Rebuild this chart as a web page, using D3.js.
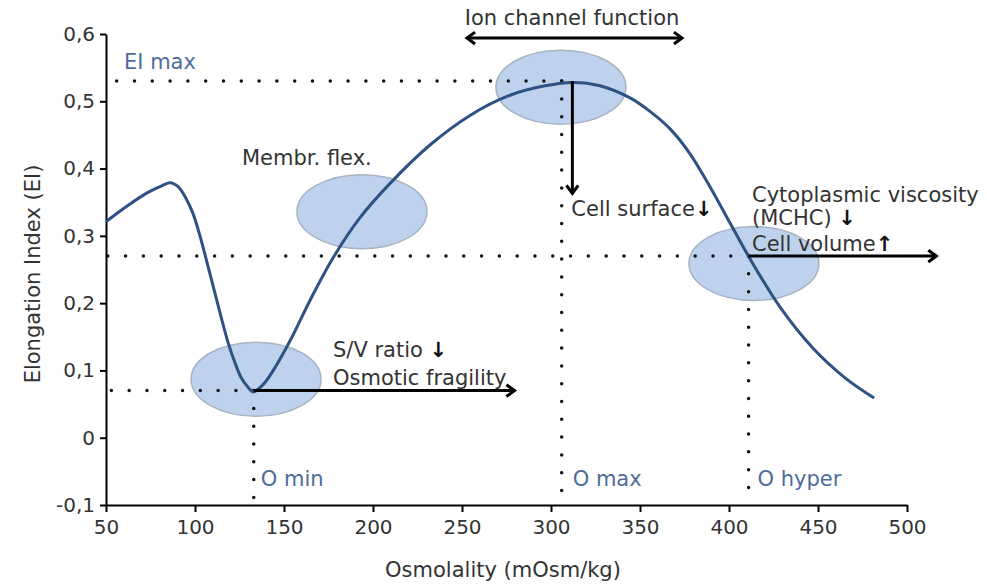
<!DOCTYPE html>
<html>
<head>
<meta charset="utf-8">
<script src="https://cdn.jsdelivr.net/npm/d3@7"></script>
<style>
  body { margin: 0; background: #fff; }
  svg text { font-family: "DejaVu Sans", Verdana, sans-serif; }
  .axis path, .axis line { stroke: #000; stroke-width: 2; }
  .axis text { font-size: 20px; fill: #333; }
</style>
</head>
<body>
<svg id="chart" width="987" height="584"></svg>
<script>
// osmolality (mOsm/kg) and elongation index
const osmolality = [50, 60.7, 71.9, 80.3, 86.0, 90.5, 94.9, 98.9, 102.8, 106.7, 110.7, 114.6, 118.5, 122.5, 125.8, 129.2, 132.6,
  135.4, 139.3, 144.9, 153.4, 164.6, 177.5, 192.7, 209.6, 232.0, 254.5, 277.0, 296.6, 312.4,
  327.5, 344.4, 355.6, 366.9, 378.1, 389.3, 400.6, 410.7, 428.7, 447.2, 465.2, 481.5];
const elongation = [0.321, 0.342, 0.362, 0.373, 0.379, 0.373, 0.356, 0.333, 0.300, 0.261, 0.220, 0.180, 0.142, 0.111, 0.090, 0.077, 0.068,
  0.072, 0.082, 0.104, 0.144, 0.204, 0.267, 0.327, 0.378, 0.435, 0.479, 0.509, 0.523, 0.528,
  0.523, 0.505, 0.485, 0.459, 0.422, 0.373, 0.319, 0.271, 0.194, 0.133, 0.089, 0.059];

const xTicks = [50, 100, 150, 200, 250, 300, 350, 400, 450, 500];
const yTicks = [-0.1, 0, 0.1, 0.2, 0.3, 0.4, 0.5, 0.6];

// characteristic points
const oMin = 133, eiMin = 0.07;
const oMax = 306, eiMax = 0.53, peakX = 312;
const oHyper = 411, eiHyper = 0.27;

// shaded regions: [centre osmolality, centre EI]
const regions = [[134.3, 0.087], [193.8, 0.336], [305.6, 0.521], [414, 0.259]];

const blue = "#4d6d9c", curveColor = "#2d5283", textColor = "#333";

const svg = d3.select("#chart");
const x = d3.scaleLinear().domain([50, 500]).range([106, 907]);
const y = d3.scaleLinear().domain([-0.1, 0.6]).range([505, 34]);

const fmt = d => d === 0 ? "0" : (d < 0 ? "-" : "") + d3.format(".1f")(Math.abs(d)).replace(".", ",");

// ellipses go under everything else
svg.append("g").selectAll("ellipse")
  .data(regions)
  .enter().append("ellipse")
  .attr("cx", d => x(d[0]))
  .attr("cy", d => y(d[1]))
  .attr("rx", 65)
  .attr("ry", 37)
  .attr("fill", "#bed2ee")
  .attr("stroke", "#a8b3c1")
  .attr("stroke-width", 1.5);

// dotted guide lines
const guides = [
  [[oMax, eiMax], [50, eiMax]],
  [[oHyper, eiHyper], [50, eiHyper]],
  [[oMin, eiMin], [50, eiMin]],
  [[oMin, eiMin], [oMin, -0.1]],
  [[oMax, eiMax], [oMax, -0.1]],
  [[oHyper, eiHyper], [oHyper, -0.1]]
];
svg.append("g").selectAll("line")
  .data(guides)
  .enter().append("line")
  .attr("x1", d => x(d[0][0])).attr("y1", d => y(d[0][1]))
  .attr("x2", d => x(d[1][0])).attr("y2", d => y(d[1][1]))
  .attr("stroke", "#111")
  .attr("stroke-width", 3.5)
  .attr("stroke-linecap", "round")
  .attr("stroke-dasharray", "0 17.8");

// axes
svg.append("g")
  .attr("class", "axis")
  .attr("transform", "translate(0," + y(-0.1) + ")")
  .call(d3.axisBottom(x).tickValues(xTicks).tickSize(7).tickSizeOuter(0).tickPadding(8))
  .selectAll("text").attr("fill", textColor);

svg.append("g")
  .attr("class", "axis")
  .attr("transform", "translate(" + x(50) + ",0)")
  .call(d3.axisLeft(y).tickValues(yTicks).tickFormat(fmt).tickSize(6).tickSizeOuter(0).tickPadding(5))
  .selectAll("text").attr("fill", textColor);

svg.append("text")
  .attr("x", 503).attr("y", 570).attr("dy", "0.35em")
  .attr("text-anchor", "middle")
  .attr("font-size", 21).attr("fill", textColor)
  .text("Osmolality (mOsm/kg)");

svg.append("text")
  .attr("transform", "translate(33,274) rotate(-90)")
  .attr("dy", "0.35em")
  .attr("text-anchor", "middle")
  .attr("font-size", 21).attr("fill", textColor)
  .text("Elongation Index (EI)");

// the curve
const points = osmolality.map((o, i) => [o, elongation[i]]);
svg.append("path")
  .datum(points)
  .attr("fill", "none")
  .attr("stroke", curveColor)
  .attr("stroke-width", 3)
  .attr("d", d3.line().x(d => x(d[0])).y(d => y(d[1])).curve(d3.curveCatmullRom.alpha(0.5)));

// arrows
function arrow(x1, y1, x2, y2, both) {
  svg.append("line")
    .attr("x1", x1).attr("y1", y1).attr("x2", x2).attr("y2", y2)
    .attr("stroke", "#000").attr("stroke-width", 3);
  const head = (tx, ty, ang) => {
    const a1 = ang + Math.PI * 0.8, a2 = ang - Math.PI * 0.8, len = 10;
    svg.append("path")
      .attr("d", "M" + (tx + len * Math.cos(a1)) + "," + (ty + len * Math.sin(a1)) +
        "L" + tx + "," + ty +
        "L" + (tx + len * Math.cos(a2)) + "," + (ty + len * Math.sin(a2)))
      .attr("fill", "none").attr("stroke", "#000").attr("stroke-width", 3)
      .attr("stroke-linejoin", "miter");
  };
  const ang = Math.atan2(y2 - y1, x2 - x1);
  head(x2, y2, ang);
  if (both) head(x1, y1, ang + Math.PI);
}
arrow(x(252.8), y(0.594), x(373.6), y(0.594), true);
arrow(x(peakX), y(eiMax), x(peakX), y(0.363));
arrow(x(oMin), y(eiMin), x(279.5), y(eiMin));
arrow(x(oHyper), y(eiHyper), x(516.5), y(eiHyper));

// labels
function label(tx, ty, parts, color, anchor) {
  const t = svg.append("text")
    .attr("x", tx).attr("y", ty).attr("dy", "0.35em")
    .attr("font-size", 21)
    .attr("fill", color || textColor)
    .attr("text-anchor", anchor || "start");
  parts.forEach(p => {
    const s = t.append("tspan").text(p.t);
    if (p.bold) s.attr("font-weight", "bold").attr("fill", "#111");
  });
}
label(124, 62, [{ t: "EI max" }], blue);
label(572, 18, [{ t: "Ion channel function" }], null, "middle");
label(242, 158, [{ t: "Membr. flex." }]);
label(x(peakX) - 1, 209, [{ t: "Cell surface" }, { t: "\u2193", bold: true }]);
label(752, 195, [{ t: "Cytoplasmic viscosity" }]);
label(752, 218, [{ t: "(MCHC) " }, { t: "\u2193", bold: true }]);
label(752, 244, [{ t: "Cell volume" }, { t: "\u2191", bold: true }]);
label(333, 350, [{ t: "S/V ratio " }, { t: "\u2193", bold: true }]);
label(333, 378, [{ t: "Osmotic fragility" }]);
label(x(oMin) + 7, 479, [{ t: "O min" }], blue);
label(x(oMax) + 11, 479, [{ t: "O max" }], blue);
label(x(oHyper) + 9, 479, [{ t: "O hyper" }], blue);
</script>
</body>
</html>
